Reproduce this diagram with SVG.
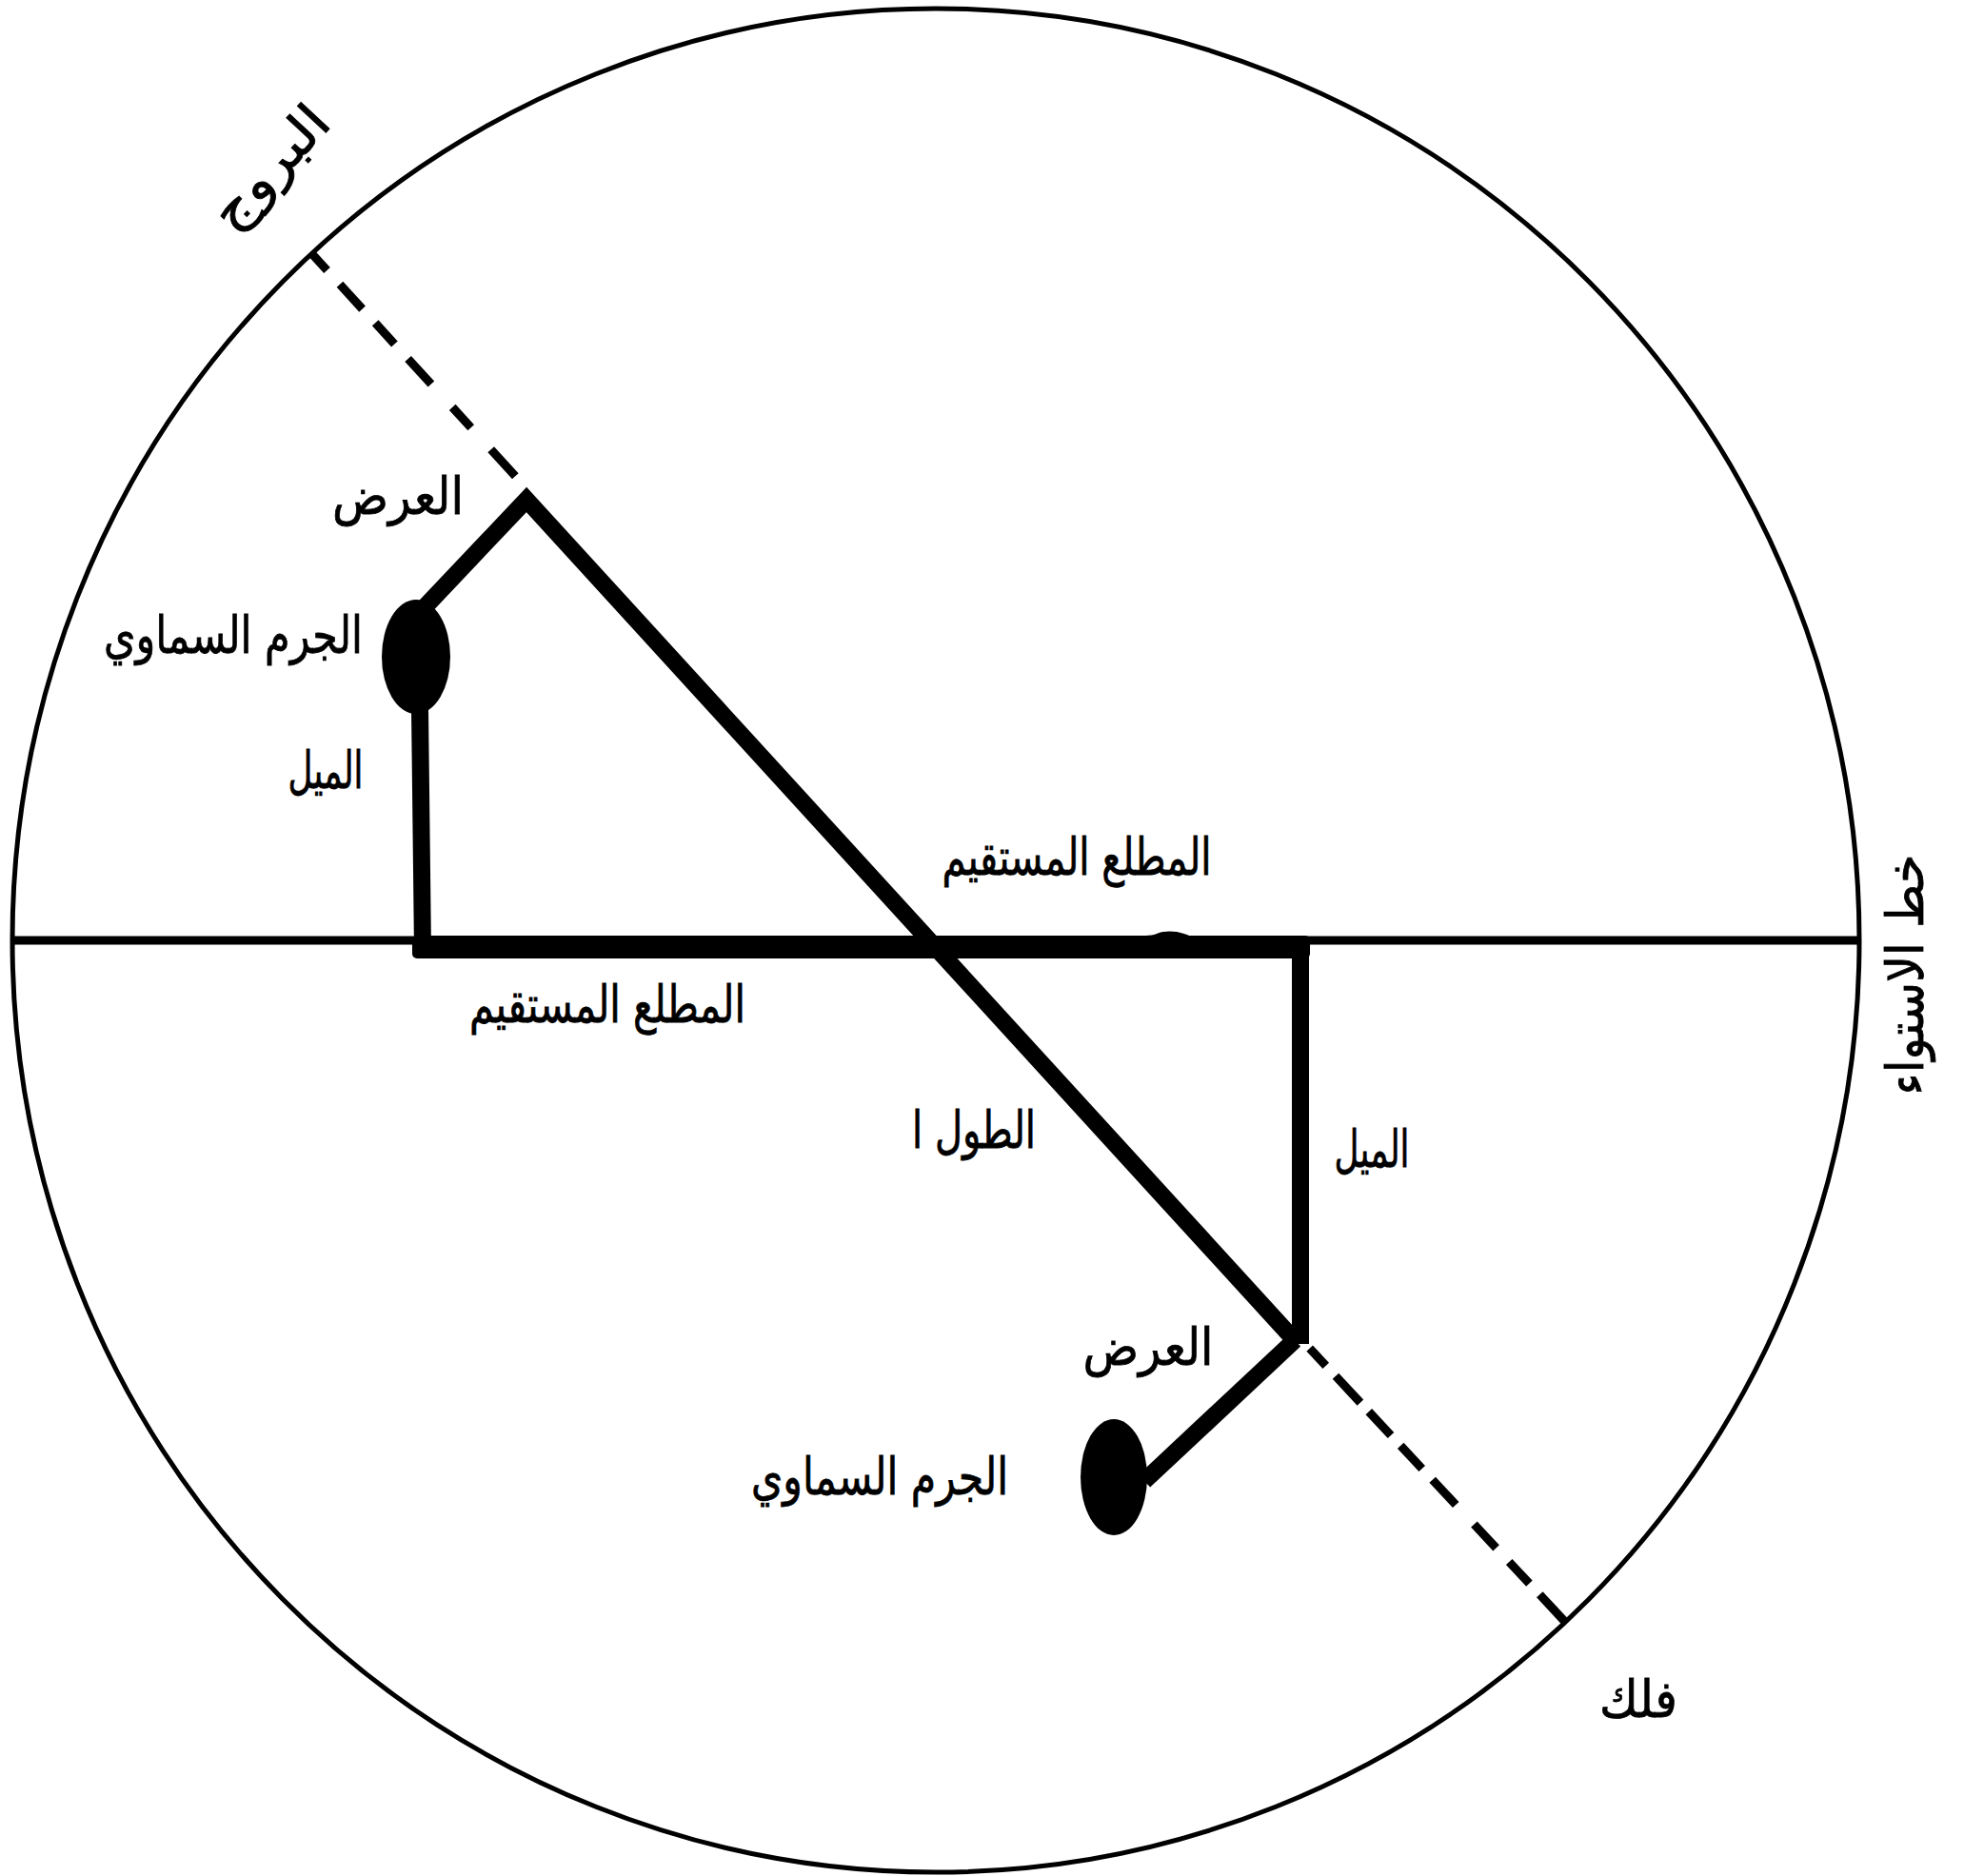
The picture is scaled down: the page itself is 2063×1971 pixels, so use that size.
<svg xmlns="http://www.w3.org/2000/svg" width="2063" height="1971" viewBox="0 0 2063 1971">
<style>
.lbl{font-family:"DejaVu Sans",sans-serif;font-size:54px;fill:#000;stroke:#000;stroke-width:0.8;text-anchor:middle}
.thin{fill:none;stroke:#000}
.thick{fill:none;stroke:#000;stroke-width:18;stroke-linecap:butt;stroke-linejoin:miter}
.dash{stroke:#000;stroke-width:9;stroke-linecap:butt}
</style>
<rect width="2063" height="1971" fill="#fff"/>
<g id="sphere">
<ellipse cx="983" cy="988" rx="970" ry="979" class="thin" stroke-width="5"/>
</g>
<g id="connectors">
<line x1="12" y1="988" x2="1953" y2="988" class="thin" stroke-width="9"/>
<polyline points="446,638 553,525 1357,1405" class="thick"/>
<line x1="441" y1="745" x2="444" y2="1000" class="thick"/>
<rect x="433" y="983" width="943" height="24" rx="5" fill="#000"/>
<line x1="1366" y1="995" x2="1366" y2="1412" class="thick" stroke-width="20"/>
<line x1="1360" y1="1408" x2="1202" y2="1556" class="thick"/>
<path d="M1190,988 C1200,981 1208,984 1215,981 C1228,976 1245,979 1258,988 Z" fill="#000"/>
<g id="ecliptic-dashes-upper">
<line x1="328" y1="267" x2="343.5" y2="284" class="dash"/>
<line x1="357" y1="298.7" x2="380.6" y2="324.6" class="dash"/>
<line x1="394.2" y1="339.3" x2="414.4" y2="361.5" class="dash"/>
<line x1="428.6" y1="377" x2="452.9" y2="403.5" class="dash"/>
<line x1="475.2" y1="427.9" x2="494.7" y2="449.3" class="dash"/>
<line x1="515.7" y1="472.2" x2="541.3" y2="500.2" class="dash"/>
</g>
<g id="ecliptic-dashes-lower">
<line x1="1375.7" y1="1416.6" x2="1392.7" y2="1434.9" class="dash"/>
<line x1="1403" y1="1445.8" x2="1428.9" y2="1473.6" class="dash"/>
<line x1="1437.8" y1="1483.1" x2="1461" y2="1508" class="dash"/>
<line x1="1471.2" y1="1518.9" x2="1493.7" y2="1543" class="dash"/>
<line x1="1504.7" y1="1554.7" x2="1529.2" y2="1581" class="dash"/>
<line x1="1548.4" y1="1601.5" x2="1571.6" y2="1626.4" class="dash"/>
<line x1="1585.2" y1="1641" x2="1606.4" y2="1663.6" class="dash"/>
<line x1="1617.3" y1="1675.3" x2="1644.6" y2="1704.6" class="dash"/>
</g>
</g>
<g id="body-upper"><ellipse cx="437" cy="690" rx="36" ry="60" fill="#000"/></g>
<g id="body-lower"><ellipse cx="1170" cy="1552" rx="35" ry="61" fill="#000"/></g>
<g id="labels">
<text class="lbl" transform="translate(297,188) rotate(-47)" x="0" y="0" textLength="155" lengthAdjust="spacingAndGlyphs">البروج</text>
<text class="lbl" x="418" y="540" textLength="138" lengthAdjust="spacingAndGlyphs">العرض</text>
<text class="lbl" x="245" y="686" textLength="272" lengthAdjust="spacingAndGlyphs">الجرم السماوي</text>
<text class="lbl" x="342" y="828" textLength="79" lengthAdjust="spacingAndGlyphs">الميل</text>
<text class="lbl" x="1131" y="919" textLength="283" lengthAdjust="spacingAndGlyphs">المطلع المستقيم</text>
<text class="lbl" x="638" y="1074" textLength="290" lengthAdjust="spacingAndGlyphs">المطلع المستقيم</text>
<text class="lbl" x="1023" y="1206" textLength="130" lengthAdjust="spacingAndGlyphs">الطول ا</text>
<text class="lbl" x="1441" y="1226" textLength="79" lengthAdjust="spacingAndGlyphs">الميل</text>
<text class="lbl" x="1206" y="1434" textLength="137" lengthAdjust="spacingAndGlyphs">العرض</text>
<text class="lbl" x="924" y="1570" textLength="270" lengthAdjust="spacingAndGlyphs">الجرم السماوي</text>
<text class="lbl" x="1721" y="1804" textLength="82" lengthAdjust="spacingAndGlyphs">فلك</text>
<text class="lbl" transform="translate(2020,1024) rotate(-90)" x="0" y="0" textLength="253" lengthAdjust="spacingAndGlyphs">خط الاستواء</text>
</g>
</svg>
